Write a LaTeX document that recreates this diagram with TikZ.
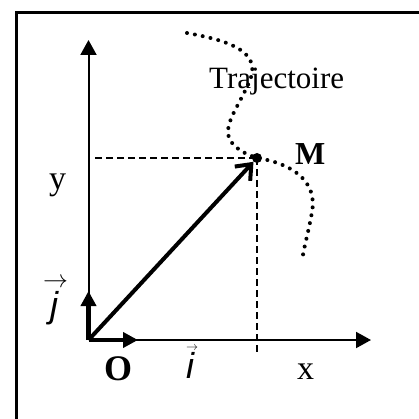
\documentclass[tikz,border=0pt]{standalone}
\usepackage{fontspec}
\setmainfont{Liberation Serif}
\setsansfont{Liberation Sans}
\usetikzlibrary{arrows.meta}
\begin{document}
\begin{tikzpicture}[x=1pt,y=-1pt,
  axis/.style={line width=2pt,-{Triangle[length=15pt,width=16pt]}},
  unitvec/.style={line width=4.5pt,-{Triangle[length=15pt,width=15pt]}},
  guide/.style={line width=1.4pt,dash pattern=on 7pt off 4pt},
  traj/.style={line width=4pt,line cap=round,dash pattern=on 0pt off 8pt},
  posvec/.style={line width=4pt,-{Straight Barb[length=13pt,width=21pt]}},
  lbl/.style={inner sep=0pt,anchor=base west}]
\useasboundingbox (0,0) rectangle (418,419);
% frame
\draw[line width=3.5pt] (16.5,425) -- (16.5,12.5) -- (425,12.5);
% coordinates
\coordinate (O) at (88.5,340);
\coordinate (X) at (371,340);
\coordinate (Y) at (88.5,40);
\coordinate (I) at (138,340);
\coordinate (J) at (88.5,291);
\coordinate (H) at (95,158);
\coordinate (V) at (257,352);
\coordinate (T0) at (187,33);
\coordinate (T1) at (302,262);
\node[circle,fill,inner sep=0pt,minimum size=10pt] (M) at (257,158) {};
% trajectory
\draw[traj] (T0) .. controls (225,40) and (262,50) .. (250,80)
  .. controls (240,105) and (222,125) .. (230,140)
  .. controls (236,150) and (248,155) .. (M.center)
  .. controls (290,163) and (318,180) .. (312,212)
  .. controls (308,235) and (303,250) .. (T1);
% guides
\draw[guide] (H) -- (M.center);
\draw[guide] (M.center) -- (V);
% axes
\draw[axis] (O) -- (X);
\draw[axis] (O) -- (Y);
% unit vectors
\draw[unitvec] (O) -- (I);
\draw[unitvec] (O) -- (J);
% position vector
\draw[posvec] (O) -- (M);
% labels
\node[lbl,font=\fontsize{31}{31}\selectfont] (trajlab) at (209,89) {Trajectoire};
\node[lbl,font=\bfseries\fontsize{32}{32}\selectfont] (Mlab) at (295,165) {M};
\node[lbl,font=\bfseries\fontsize{36}{36}\selectfont] (Olab) at (104,380) {O};
\node[lbl,font=\fontsize{34}{34}\selectfont] (xlab) at (297,379) {x};
\node[lbl,font=\fontsize{34}{34}\selectfont] (ylab) at (49,190) {y};
\node[lbl,font=\sffamily\itshape\fontsize{36}{36}\selectfont] (jlab) at (50,317)
  {\makebox[0pt][l]{\kern-7pt\raisebox{30pt}{\fontsize{24}{24}\selectfont$\rightarrow$}}j};
\node[lbl,font=\sffamily\itshape\fontsize{36}{36}\selectfont] (ilab) at (186,378)
  {\makebox[0pt][l]{\raisebox{28pt}{\fontsize{12}{12}\selectfont$\rightarrow$}}i};
\end{tikzpicture}
\end{document}
